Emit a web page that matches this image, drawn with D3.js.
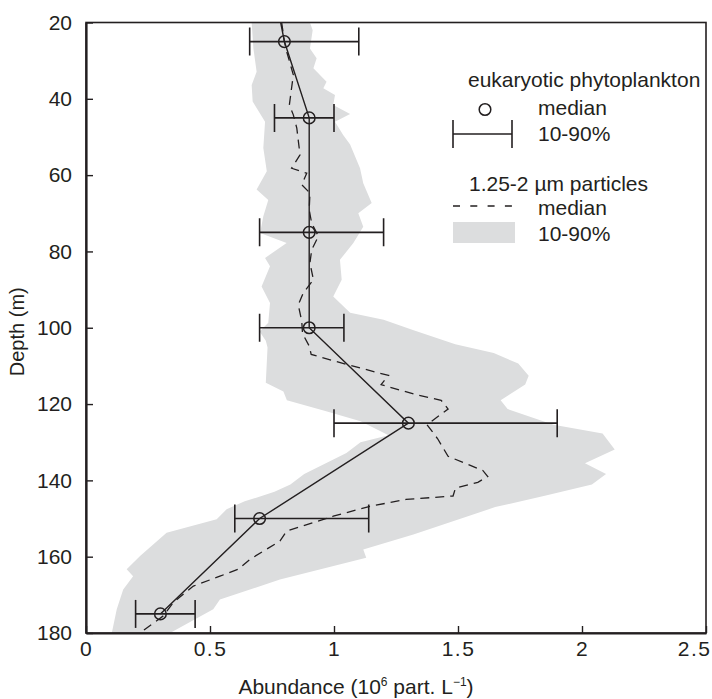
<!DOCTYPE html>
<html>
<head>
<meta charset="utf-8">
<script src="https://cdn.jsdelivr.net/npm/d3@7"></script>
<style>
  html, body { margin: 0; padding: 0; background: #fff; }
  svg { display: block; font-family: "Liberation Sans", Arial, Helvetica, sans-serif; }
</style>
</head>
<body>
<svg id="chart" width="712" height="699"></svg>
<script>
// Eukaryotic phytoplankton: median and 10-90% range at each sampled depth (m)
const phytoDepth  = [25, 45, 75, 100, 125, 150, 175];
const phytoMedian = [0.80, 0.90, 0.90, 0.90, 1.30, 0.70, 0.30];
const phytoP10    = [0.66, 0.76, 0.70, 0.70, 1.00, 0.60, 0.20];
const phytoP90    = [1.10, 1.00, 1.20, 1.04, 1.90, 1.14, 0.44];
// profile line continues up to the top of the depth axis
const phytoTopDepth = 20;
const phytoTopValue = 0.785;

// 1.25-2 µm particles: median profile
const partDepth  = [20, 25, 27.6, 33.7, 41.6, 44.2, 47.7, 54.7, 58.2, 59.5, 62.5, 64.7, 69.1, 72.6, 76,
                    79.6, 83, 87.4, 90.9, 94, 98.3, 101.5, 104.8, 107, 109.6, 112.5, 114.9, 117.6, 119,
                    121.3, 125.4, 129.1, 133.7, 137.4, 139, 140.5, 142, 144.1, 145, 146.8, 149.4, 153.3,
                    155.9, 160.7, 163.3, 165.1, 167.7, 172, 175.5, 179, 180];
const partMedian = [0.789, 0.80, 0.809, 0.836, 0.82, 0.836, 0.85, 0.863, 0.829, 0.89, 0.87, 0.903, 0.90, 0.91, 0.937,
                    0.91, 0.903, 0.917, 0.876, 0.856, 0.87, 0.873, 0.90, 0.908, 1.05, 1.22, 1.19, 1.333, 1.432,
                    1.46, 1.375, 1.418, 1.46, 1.60, 1.62, 1.58, 1.49, 1.48, 1.29, 1.145, 0.997, 0.809,
                    0.782, 0.661, 0.614, 0.54, 0.433, 0.352, 0.312, 0.238, 0.22];

// 1.25-2 µm particles: 10th percentile (left edge of band)
const bandLowDepth = [20, 26.8, 32.9, 36.4, 40.7, 46, 52.9, 59, 63.8, 66.5, 70.8, 75.2, 77.8, 81.7, 83.9,
                      89.2, 93.5, 98.7, 101, 103.4, 105.2, 114.4, 116.7, 119, 121.8, 124.5, 128.2, 130,
                      132.8, 138.3, 141.1, 143, 145.5, 147.6, 150.2, 153.7, 159.8, 163.3, 165.1, 168.6,
                      173.8, 180];
const bandLow      = [0.668, 0.675, 0.688, 0.668, 0.672, 0.722, 0.715, 0.729, 0.688, 0.735, 0.715, 0.702, 0.809, 0.722, 0.742,
                      0.708, 0.742, 0.735, 0.70, 0.725, 0.732, 0.725, 0.796, 0.81, 0.965, 1.107, 1.22, 1.107,
                      1.05, 0.88, 0.824, 0.76, 0.64, 0.567, 0.527, 0.325, 0.218, 0.164, 0.19, 0.15,
                      0.124, 0.104];

// 1.25-2 µm particles: 90th percentile (right edge of band)
const bandHighDepth = [20, 22, 26.8, 29.4, 32, 35.5, 37.2, 39, 41.6, 44, 46, 49.5, 52, 58.2, 62.1, 67.3,
                       70, 73.5, 77.8, 82.2, 87.4, 91.8, 96.1, 97.9, 100.6, 104.3, 106.6, 109.4, 112.6,
                       114.9, 119, 121.3, 125.4, 127.7, 131.9, 135.5, 138.3, 141.1, 144, 147, 149.4,
                       154.2, 158.1, 160.3, 166, 171.2, 173.8, 180];
const bandHigh      = [0.903, 0.914, 0.903, 0.93, 0.917, 0.97, 0.957, 1.004, 0.997, 1.065, 1.004, 1.037, 1.065, 1.105, 1.118, 1.152,
                       1.098, 1.118, 1.078, 1.024, 1.031, 0.997, 1.065, 1.2, 1.318, 1.489, 1.644, 1.743, 1.785,
                       1.771, 1.672, 1.70, 1.885, 2.083, 2.132, 2.012, 2.097, 2.04, 1.85, 1.65, 1.54,
                       1.32, 1.118, 1.13, 0.782, 0.54, 0.513, 0.339];

const xTicks = [0, 0.5, 1, 1.5, 2, 2.5];
const yTicks = [20, 40, 60, 80, 100, 120, 140, 160, 180];

const INK = "#231f20";
const BAND = "#dcddde";
const FONT = 21;

const svg = d3.select("#chart");
const plot = { left: 86, right: 706, top: 22.5, bottom: 633 };

const x = d3.scaleLinear().domain([0, 2.5]).range([plot.left, plot.right]);
const y = d3.scaleLinear().domain([20, 180]).range([plot.top, plot.bottom]);

svg.append("defs").append("clipPath").attr("id", "plotClip")
  .append("rect")
  .attr("x", plot.left).attr("y", plot.top)
  .attr("width", plot.right - plot.left).attr("height", plot.bottom - plot.top);

const g = svg.append("g").attr("clip-path", "url(#plotClip)");

// shaded 10-90% band for particles: high edge downwards, then low edge back up
const bandPts = bandHighDepth.map((d, i) => [bandHigh[i], d])
  .concat(bandLowDepth.map((d, i) => [bandLow[i], d]).reverse());
g.append("path")
  .attr("d", d3.line().x(p => x(p[0])).y(p => y(p[1]))(bandPts) + "Z")
  .attr("fill", BAND)
  .attr("stroke", "none");

// dashed particle median
g.append("path")
  .datum(partDepth.map((d, i) => [partMedian[i], d]))
  .attr("d", d3.line().x(p => x(p[0])).y(p => y(p[1])))
  .attr("fill", "none")
  .attr("stroke", INK)
  .attr("stroke-width", 1.3)
  .attr("stroke-dasharray", "9,6");

// solid phytoplankton median profile
const phytoLinePts = [[phytoTopValue, phytoTopDepth]]
  .concat(phytoDepth.map((d, i) => [phytoMedian[i], d]));
g.append("path")
  .datum(phytoLinePts)
  .attr("d", d3.line().x(p => x(p[0])).y(p => y(p[1])))
  .attr("fill", "none")
  .attr("stroke", INK)
  .attr("stroke-width", 1.4);

// 10-90% error bars
const cap = 14;
const eb = g.append("g").attr("stroke", INK).attr("stroke-width", 1.6).attr("fill", "none");
phytoDepth.forEach((d, i) => {
  const yy = y(d);
  eb.append("line").attr("x1", x(phytoP10[i])).attr("x2", x(phytoP90[i])).attr("y1", yy).attr("y2", yy);
  eb.append("line").attr("x1", x(phytoP10[i])).attr("x2", x(phytoP10[i])).attr("y1", yy - cap).attr("y2", yy + cap);
  eb.append("line").attr("x1", x(phytoP90[i])).attr("x2", x(phytoP90[i])).attr("y1", yy - cap).attr("y2", yy + cap);
});

// median circles
g.append("g").selectAll("circle")
  .data(phytoDepth)
  .join("circle")
  .attr("cx", (d, i) => x(phytoMedian[i]))
  .attr("cy", d => y(d))
  .attr("r", 5.8)
  .attr("fill", "none")
  .attr("stroke", INK)
  .attr("stroke-width", 1.5);

// frame
svg.append("rect")
  .attr("x", plot.left).attr("y", plot.top)
  .attr("width", plot.right - plot.left).attr("height", plot.bottom - plot.top)
  .attr("fill", "none").attr("stroke", INK).attr("stroke-width", 1.6);

// axes with inward ticks
const yAxis = svg.append("g")
  .attr("transform", `translate(${plot.left},0)`)
  .call(d3.axisLeft(y).tickValues(yTicks).tickSizeInner(-7).tickSizeOuter(0).tickPadding(14).tickFormat(d3.format("d")));
const xAxis = svg.append("g")
  .attr("transform", `translate(0,${plot.bottom})`)
  .call(d3.axisBottom(x).tickValues(xTicks).tickSizeInner(-7).tickSizeOuter(0).tickPadding(8)
        .tickFormat(d => d === 0 ? "0" : String(d)));

[xAxis, yAxis].forEach(ax => {
  ax.select(".domain").attr("stroke", INK).attr("stroke-width", 2.2);
  ax.selectAll(".tick line").attr("stroke", INK).attr("stroke-width", 1.4);
  ax.selectAll(".tick text")
    .attr("fill", INK)
    .style("font-size", FONT + "px")
    .style("font-family", "'Liberation Sans', Arial, sans-serif");
});
xAxis.selectAll(".tick text").style("letter-spacing", "1.5px");
// last label sits at the right edge of the page: keep it inside
xAxis.selectAll(".tick text").filter(d => d === 2.5)
  .attr("text-anchor", "end").attr("x", 711 - plot.right);

// axis titles
svg.append("text")
  .attr("transform", `translate(24,${(plot.top + plot.bottom) / 2 + 4}) rotate(-90)`)
  .attr("text-anchor", "middle")
  .attr("fill", INK)
  .style("font-size", "20px")
  .text("Depth (m)");

const xt = svg.append("text")
  .attr("x", 356).attr("y", 694)
  .attr("text-anchor", "middle")
  .attr("fill", INK)
  .style("font-size", FONT + "px");
xt.append("tspan").text("Abundance (10");
xt.append("tspan").attr("dy", -8).style("font-size", "12px").text("6");
xt.append("tspan").attr("dy", 8).text(" part. L");
xt.append("tspan").attr("dy", -8).style("font-size", "12px").text("\u22121");
xt.append("tspan").attr("dy", 8).text(")");

// legend
const lg = svg.append("g").attr("fill", INK).style("font-size", FONT + "px");
const lx0 = 453, lx1 = 512, ltx = 538;
lg.append("text").attr("x", 468).attr("y", 87).text("eukaryotic phytoplankton");
lg.append("circle").attr("cx", 485).attr("cy", 109.5).attr("r", 5.8)
  .attr("fill", "none").attr("stroke", INK).attr("stroke-width", 1.5);
lg.append("text").attr("x", ltx).attr("y", 115).text("median");
const leb = lg.append("g").attr("stroke", INK).attr("stroke-width", 1.6);
leb.append("line").attr("x1", lx0).attr("x2", lx1).attr("y1", 134).attr("y2", 134);
leb.append("line").attr("x1", lx0).attr("x2", lx0).attr("y1", 134 - cap).attr("y2", 134 + cap);
leb.append("line").attr("x1", lx1).attr("x2", lx1).attr("y1", 134 - cap).attr("y2", 134 + cap);
lg.append("text").attr("x", ltx).attr("y", 141).text("10-90%");

lg.append("text").attr("x", 469).attr("y", 191).text("1.25-2 \u00b5m particles");
lg.append("line").attr("x1", lx0).attr("x2", lx1).attr("y1", 206).attr("y2", 206)
  .attr("stroke", INK).attr("stroke-width", 1.3).attr("stroke-dasharray", "7,10.3");
lg.append("text").attr("x", ltx).attr("y", 215).text("median");
lg.append("rect").attr("x", lx0).attr("y", 222).attr("width", 62).attr("height", 21)
  .attr("fill", BAND);
lg.append("text").attr("x", ltx).attr("y", 241).text("10-90%");
</script>
</body>
</html>
